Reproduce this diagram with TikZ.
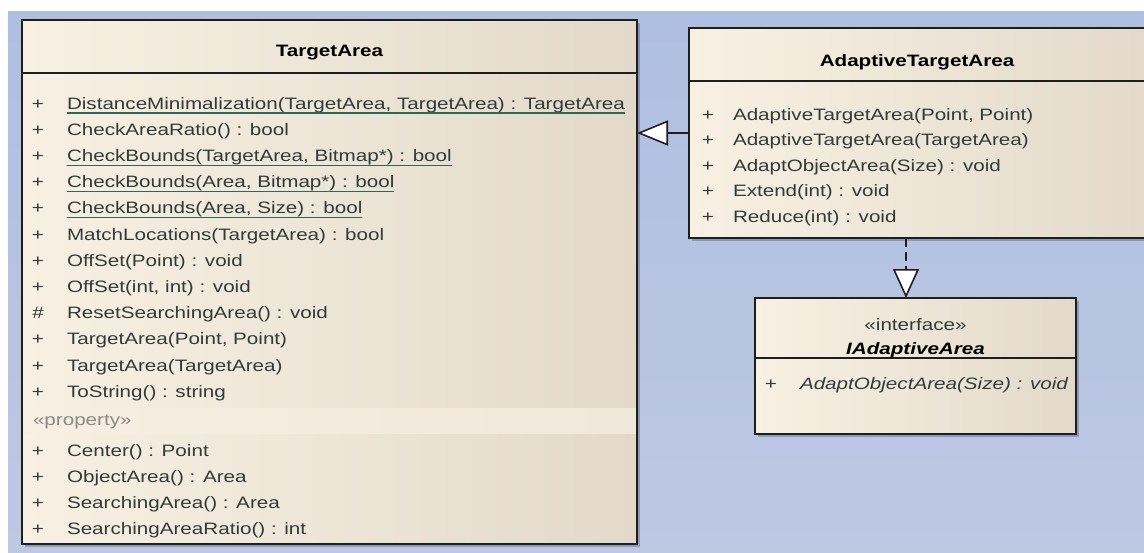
\documentclass[tikz,border=0pt]{standalone}
\usepackage{fontspec}
\setmainfont{Liberation Sans}[FakeStretch=1.25]
\usetikzlibrary{arrows.meta,shadows}

\definecolor{bgtop}{HTML}{AFBFE1}
\definecolor{bgbot}{HTML}{BDC8E3}
\definecolor{boxL}{HTML}{F8F1E3}
\definecolor{boxR}{HTML}{E2D9CA}
\definecolor{memtxt}{HTML}{2F3C3B}
\definecolor{ulcol}{HTML}{2F6657}
\definecolor{stereo}{HTML}{8A8A8A}
\definecolor{bandL}{HTML}{F6EFE2}
\definecolor{bandR}{HTML}{F0E8DA}
\definecolor{edge}{HTML}{1E1E1E}

\newcommand\umlfont{\fontsize{16.5}{20}\selectfont}

\tikzset{
  classbox/.style={draw=edge, line width=2pt, inner sep=0pt, outer sep=0pt,
    left color=boxL, right color=boxR,
    drop shadow={shadow xshift=3pt, shadow yshift=-3pt, fill=black, opacity=0.22}},
  divider/.style={draw=edge, line width=2pt},
  member/.style={anchor=base west, inner sep=0pt, outer sep=0pt, text=memtxt, font=\umlfont},
  vis/.style={anchor=base, inner sep=0pt, outer sep=0pt, text=memtxt, font=\umlfont},
  classname/.style={anchor=base, inner sep=0pt, outer sep=0pt, text=black, font=\umlfont\bfseries},
  stereotype/.style={inner sep=0pt, outer sep=0pt, text=stereo, font=\umlfont},
  ul/.style={draw=ulcol, line width=1.3pt},
  gen/.style={draw=edge, line width=1.6pt,
    -{Triangle[length=31pt, width=25pt, fill=white, line width=1.6pt]}},
  real/.style={draw=edge, line width=1.6pt, dash pattern=on 9pt off 5pt,
    -{Triangle[length=29pt, width=26pt, fill=white, line width=1.6pt]}},
}

\begin{document}
\begin{tikzpicture}[x=1pt, y=-1pt]
\useasboundingbox (0,0) rectangle (1144,552);
\clip (0,0) rectangle (1144,552);

% canvas
\fill[white] (0,0) rectangle (1144,552);
\shade[top color=bgtop, bottom color=bgbot] (8,11) rectangle (1144,552);

% ---------- TargetArea ----------
\node[classbox, minimum width=615pt, minimum height=524pt] (ta) at (329.5,282) {};
\fill[left color=bandL, right color=bandR] (23,408) rectangle (636,433);
\draw[draw=edge, line width=2pt] (ta.north west) rectangle (ta.south east);
\draw[divider] (ta.west |- 0,73) -- (ta.east |- 0,73);
\node[classname] (tatitle) at (329.5,56) {TargetArea};

\foreach \v/\t [count=\i] in {
  {+}/{DistanceMinimalization(TargetArea, TargetArea) : TargetArea},
  {+}/{CheckAreaRatio() : bool},
  {+}/{CheckBounds(TargetArea, Bitmap*) : bool},
  {+}/{CheckBounds(Area, Bitmap*) : bool},
  {+}/{CheckBounds(Area, Size) : bool},
  {+}/{MatchLocations(TargetArea) : bool},
  {+}/{OffSet(Point) : void},
  {+}/{OffSet(int, int) : void},
  {\#}/{ResetSearchingArea() : void},
  {+}/{TargetArea(Point, Point)},
  {+}/{TargetArea(TargetArea)},
  {+}/{ToString() : string}} {
  \pgfmathsetmacro\yb{109+26.2*(\i-1)}
  \node[vis] (tav\i) at (38,\yb) {\v};
  \node[member] (ta\i) at (67,\yb) {\t};
}
\foreach \i in {1,3,4,5}
  \draw[ul] ([yshift=-4pt]ta\i.base west) -- ([yshift=-4pt]ta\i.base east);

\node[stereotype, anchor=base west] (taprop) at (33,425) {«property»};
\foreach \t/\yb [count=\i] in {
  {Center() : Point}/456,
  {ObjectArea() : Area}/482,
  {SearchingArea() : Area}/508,
  {SearchingAreaRatio() : int}/534} {
  \node[vis] (tpv\i) at (38,\yb) {+};
  \node[member] (tp\i) at (67,\yb) {\t};
}

% ---------- AdaptiveTargetArea ----------
\node[classbox, minimum width=471pt, minimum height=210pt] (ata) at (924.5,133) {};
\draw[divider] (ata.west |- 0,81) -- (ata.east |- 0,81);
\node[classname] (atatitle) at (917,66) {AdaptiveTargetArea};
\foreach \t/\yb [count=\i] in {
  {AdaptiveTargetArea(Point, Point)}/120,
  {AdaptiveTargetArea(TargetArea)}/145.5,
  {AdaptObjectArea(Size) : void}/171,
  {Extend(int) : void}/196.5,
  {Reduce(int) : void}/222} {
  \node[vis] (atav\i) at (708,\yb) {+};
  \node[member] (ata\i) at (733,\yb) {\t};
}

% ---------- IAdaptiveArea ----------
\node[classbox, minimum width=321pt, minimum height=136pt] (iaa) at (915.5,366) {};
\draw[divider] (iaa.west |- 0,358) -- (iaa.east |- 0,358);
\node[stereotype, text=memtxt, anchor=base] (iaast) at (915.5,330) {«interface»};
\node[classname, font=\umlfont\bfseries\itshape] (iaatitle) at (915.5,354) {IAdaptiveArea};
\node[vis] (iaav1) at (771,389) {+};
\node[member, font=\umlfont\itshape] (iaa1) at (800,389) {AdaptObjectArea(Size) : void};

% ---------- relations ----------
\draw[gen] (ata.west) -- (ta.east |- ata.west);
\coordinate (rtop) at (906,238);
\draw[real] (rtop) -- (iaa.north -| rtop);

\end{tikzpicture}
\end{document}
